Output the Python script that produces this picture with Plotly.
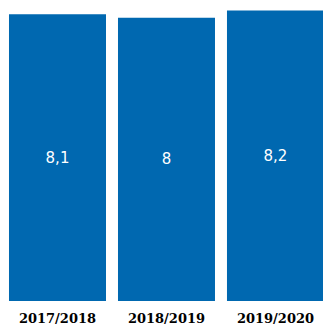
import plotly.graph_objects as go

categories = ["2017/2018", "2018/2019", "2019/2020"]
values = [8.1, 8.0, 8.2]
value_labels = ["8,1", "8", "8,2"]

fig = go.Figure(go.Bar(
    x=categories,
    y=values,
    text=value_labels,
    textposition="inside",
    insidetextanchor="middle",
    textfont=dict(color="white", size=15, family="DejaVu Sans"),
    marker=dict(color="#0068B0", line=dict(width=0)),
    width=0.89,
    hoverinfo="skip",
))

fig.update_layout(
    width=323, height=325,
    margin=dict(l=3, r=0, t=0, b=24),
    paper_bgcolor="white",
    plot_bgcolor="white",
    showlegend=False,
    xaxis=dict(
        type="category",
        range=[-0.5, 2.436],
        automargin=False,
        showgrid=False, zeroline=False, showline=False,
        ticks="",
        ticklabelstandoff=8,
        tickfont=dict(family="DejaVu Serif", size=13, color="black", weight="bold"),
    ),
    yaxis=dict(
        range=[0, 8.5],
        visible=False,
        showgrid=False, zeroline=False,
    ),
)

fig.write_html("out.html")
